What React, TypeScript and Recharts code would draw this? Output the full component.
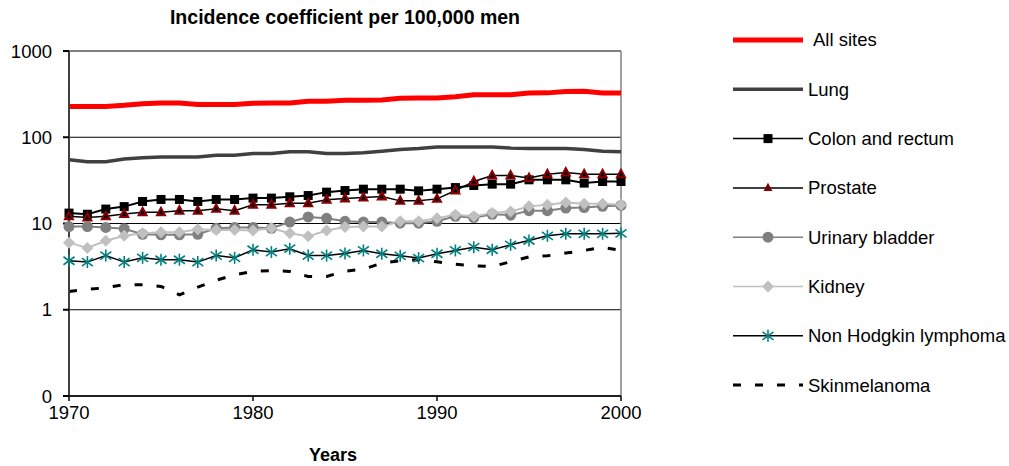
import React from 'react';
import { LineChart, Line, XAxis, YAxis, CartesianGrid, ReferenceLine } from 'recharts';

// incidence per 100,000 men
const years = [
  1970, 1971, 1972, 1973, 1974, 1975, 1976, 1977, 1978, 1979, 1980, 1981, 1982, 1983, 1984, 1985,
  1986, 1987, 1988, 1989, 1990, 1991, 1992, 1993, 1994, 1995, 1996, 1997, 1998, 1999, 2000,
];
const allSites = [228, 228, 228, 235, 245, 250, 250, 240, 240, 240, 248, 250, 250, 262, 262, 268, 268, 270, 283, 285, 285, 295, 310, 312, 312, 325, 327, 340, 342, 325, 325];
const lung = [55, 52, 52, 56, 58, 59, 59, 59, 62, 62, 65, 65, 68, 68, 65, 65, 66, 69, 72, 74, 77, 77, 77, 77, 75, 74, 74, 74, 72, 69, 68];
const colon = [13.2, 12.8, 14.7, 15.7, 18, 19, 19, 18, 19, 19, 19.7, 19.7, 20.4, 21.1, 23.1, 24.1, 25, 25, 25, 23.9, 25, 26.1, 27.6, 28.6, 28.6, 32.1, 32.1, 32.1, 29.4, 30.7, 30.7];
const prostate = [12.1, 11.7, 12.1, 12.9, 13.5, 13.5, 14.1, 14.1, 14.8, 14.1, 16.5, 16.5, 17.2, 17.2, 18.8, 19.5, 20, 20.6, 18.3, 18.3, 19.3, 24.1, 30.7, 36, 36, 33.6, 37.2, 39, 37.2, 37.2, 37.2];
const bladder = [9.2, 9.2, 9.0, 8.7, 7.5, 7.4, 7.4, 7.5, 8.8, 9.0, 9.0, 8.8, 10.4, 11.9, 11.5, 10.6, 10.4, 10.4, 10.1, 10.1, 10.6, 12.1, 11.7, 12.8, 12.5, 14.1, 14.1, 15.1, 15.3, 15.8, 16.2];
const kidney = [6.0, 5.2, 6.3, 7.2, 7.7, 7.9, 7.9, 8.6, 8.4, 8.4, 8.3, 8.8, 7.7, 7.1, 8.3, 9.1, 9.2, 9.2, 10.6, 10.6, 11.5, 12.6, 12.1, 13.2, 13.8, 15.8, 16.5, 17.5, 16.9, 16.9, 16.5];
const nhl = [3.7, 3.57, 4.25, 3.57, 4.0, 3.8, 3.8, 3.57, 4.25, 4.0, 4.96, 4.66, 5.1, 4.25, 4.25, 4.5, 4.87, 4.46, 4.22, 3.97, 4.46, 4.87, 5.32, 4.96, 5.66, 6.35, 7.2, 7.6, 7.6, 7.6, 7.7];
const melanoma = [1.63, 1.72, 1.8, 1.95, 1.95, 1.86, 1.49, 1.83, 2.2, 2.54, 2.78, 2.85, 2.78, 2.43, 2.43, 2.8, 2.96, 3.47, 3.7, 3.8, 3.6, 3.38, 3.23, 3.17, 3.6, 4.1, 4.22, 4.54, 4.87, 5.3, 4.87];

const yTicks = [0.1, 1, 10, 100, 1000];
const xTicks = [1970, 1980, 1990, 2000];

const data = years.map((year, i) => ({
  year,
  allSites: allSites[i],
  lung: lung[i],
  colon: colon[i],
  prostate: prostate[i],
  bladder: bladder[i],
  kidney: kidney[i],
  nhl: nhl[i],
  melanoma: melanoma[i],
}));

const FONT = '"Liberation Sans", Arial, sans-serif';
const TEAL = '#008080';
const MAROON = '#8b0000';

// marker shapes (also used by the legend)
const Square = ({ cx, cy }: { cx: number; cy: number }) => (
  <rect x={cx - 4.5} y={cy - 4.5} width={9} height={9} fill="#000" />
);
const Triangle = ({ cx, cy, s = 1 }: { cx: number; cy: number; s?: number }) => (
  <polygon
    points={`${cx},${cy - 4.5 * s} ${cx - 4 * s},${cy + 3 * s} ${cx + 4 * s},${cy + 3 * s}`}
    fill="#000"
    stroke={MAROON}
    strokeWidth={2}
  />
);
const Dot = ({ cx, cy }: { cx: number; cy: number }) => <circle cx={cx} cy={cy} r={5.5} fill="#808080" />;
const Diamond = ({ cx, cy }: { cx: number; cy: number }) => (
  <polygon points={`${cx},${cy - 6} ${cx + 6},${cy} ${cx},${cy + 6} ${cx - 6},${cy}`} fill="#c0c0c0" />
);
const Asterisk = ({ cx, cy }: { cx: number; cy: number }) => (
  <g stroke={TEAL} strokeWidth={1.6}>
    <line x1={cx} y1={cy - 6} x2={cx} y2={cy + 6} />
    <line x1={cx - 5.5} y1={cy - 4} x2={cx + 5.5} y2={cy + 4} />
    <line x1={cx - 5.5} y1={cy + 4} x2={cx + 5.5} y2={cy - 4} />
  </g>
);
const SmallTriangle = ({ cx, cy }: { cx: number; cy: number }) => <Triangle cx={cx} cy={cy} s={0.7} />;

const dotOf = (Shape: any, name: string) => (p: any) => {
  if (p.cx == null || p.cy == null) return <g key={`${name}-${p.index}`} />;
  return <Shape key={`${name}-${p.index}`} cx={p.cx} cy={p.cy} />;
};

const legendRows = [
  { label: 'All sites', stroke: '#ff0000', width: 5, marker: null, dash: undefined, textX: 813 },
  { label: 'Lung', stroke: '#404040', width: 3.5, marker: null, dash: undefined, textX: 808 },
  { label: 'Colon and rectum', stroke: '#000', width: 1.5, marker: Square, dash: undefined, textX: 808 },
  { label: 'Prostate', stroke: '#000', width: 1.5, marker: SmallTriangle, dash: undefined, textX: 808 },
  { label: 'Urinary bladder', stroke: '#808080', width: 1.5, marker: Dot, dash: undefined, textX: 808 },
  { label: 'Kidney', stroke: '#c0c0c0', width: 1.5, marker: Diamond, dash: undefined, textX: 808 },
  { label: 'Non Hodgkin lymphoma', stroke: '#000', width: 1.5, marker: Asterisk, dash: undefined, textX: 808 },
  { label: 'Skinmelanoma', stroke: '#000', width: 3, marker: null, dash: '8 14', textX: 808 },
];

const Legend = () => (
  <svg width={1009} height={466} style={{ position: 'absolute', left: 0, top: 0, pointerEvents: 'none' }}>
    {legendRows.map((r, i) => {
      const y = 40 + i * 49.3;
      const M = r.marker as any;
      return (
        <g key={r.label}>
          <line x1={733} x2={803} y1={y} y2={y} stroke={r.stroke} strokeWidth={r.width} strokeDasharray={r.dash} />
          {M && <M cx={768} cy={y} />}
          <text x={r.textX} y={y} dy="0.35em" fontSize={18.5} fontFamily={FONT} fill="#000">
            {r.label}
          </text>
        </g>
      );
    })}
  </svg>
);

export default function App() {
  return (
    <div style={{ position: 'absolute', left: 0, top: 0, width: 1009, height: 466, background: '#fff', fontFamily: FONT }}>
      <div
        style={{
          position: 'absolute',
          left: 0,
          top: 7,
          width: 690,
          textAlign: 'center',
          fontWeight: 'bold',
          fontSize: 19.5,
          lineHeight: '20px',
        }}
      >
        Incidence coefficient per 100,000 men
      </div>
      <LineChart width={1009} height={466} data={data} margin={{ top: 51, right: 388, bottom: 0, left: 0 }}>
        <CartesianGrid horizontal vertical={false} stroke="#000" strokeWidth={1} />
        <XAxis
          dataKey="year"
          type="number"
          domain={[1970, 2000]}
          ticks={xTicks}
          height={70}
          stroke="#000"
          strokeWidth={1.5}
          tickSize={5}
          tickMargin={5}
          tick={{ fill: '#000', fontSize: 18.5, fontFamily: FONT }}
        />
        <YAxis
          type="number"
          scale="log"
          domain={[0.1, 1000]}
          allowDataOverflow
          ticks={yTicks}
          width={69}
          stroke="#404040"
          strokeWidth={2}
          tickLine={{ stroke: '#000' }}
          tickSize={6}
          tickMargin={11}
          tickFormatter={(v: number) => (v < 1 ? '0' : String(v))}
          tick={{ fill: '#000', fontSize: 18.5, fontFamily: FONT }}
        />
        <ReferenceLine y={1000} stroke="#808080" strokeWidth={1.5} />
        <ReferenceLine x={2000} stroke="#808080" strokeWidth={1.5} />
        <Line dataKey="allSites" stroke="#ff0000" strokeWidth={5} dot={false} activeDot={false} isAnimationActive={false} />
        <Line dataKey="lung" stroke="#404040" strokeWidth={3.5} dot={false} activeDot={false} isAnimationActive={false} />
        <Line dataKey="colon" stroke="#000" strokeWidth={2} dot={dotOf(Square, 'sq')} activeDot={false} isAnimationActive={false} />
        <Line dataKey="prostate" stroke="#000" strokeWidth={1.5} dot={dotOf(Triangle, 'tr')} activeDot={false} isAnimationActive={false} />
        <Line dataKey="bladder" stroke="#808080" strokeWidth={2} dot={dotOf(Dot, 'ci')} activeDot={false} isAnimationActive={false} />
        <Line dataKey="kidney" stroke="#c0c0c0" strokeWidth={2} dot={dotOf(Diamond, 'di')} activeDot={false} isAnimationActive={false} />
        <Line dataKey="nhl" stroke="#000" strokeWidth={1.5} dot={dotOf(Asterisk, 'as')} activeDot={false} isAnimationActive={false} />
        <Line dataKey="melanoma" stroke="#000" strokeWidth={3} strokeDasharray="8 14" dot={false} activeDot={false} isAnimationActive={false} />
      </LineChart>
      <Legend />
      <div
        style={{
          position: 'absolute',
          left: 233,
          top: 446,
          width: 200,
          textAlign: 'center',
          fontWeight: 'bold',
          fontSize: 18,
          lineHeight: '18px',
        }}
      >
        Years
      </div>
    </div>
  );
}
